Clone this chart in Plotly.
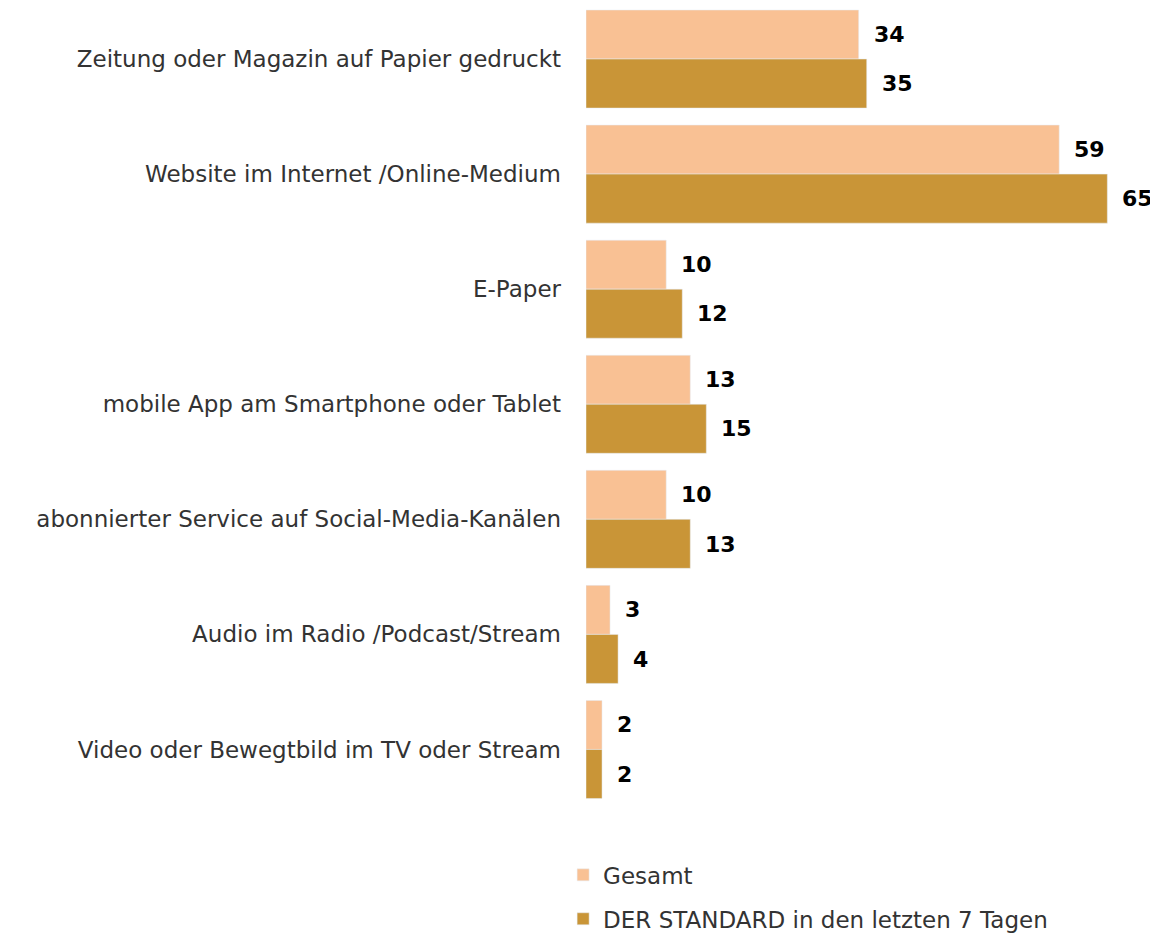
import plotly.graph_objects as go

categories = [
    "Zeitung oder Magazin auf Papier gedruckt",
    "Website im Internet /Online-Medium",
    "E-Paper",
    "mobile App am Smartphone oder Tablet",
    "abonnierter Service auf Social-Media-Kanälen",
    "Audio im Radio /Podcast/Stream",
    "Video oder Bewegtbild im TV oder Stream",
]
gesamt = [34, 59, 10, 13, 10, 3, 2]
standard = [35, 65, 12, 15, 13, 4, 2]

series_names = ["Gesamt", "DER STANDARD in den letzten 7 Tagen"]
colors = ["#F9C194", "#C99537"]

fig = go.Figure()
for name, vals, col in zip(series_names, [gesamt, standard], colors):
    fig.add_trace(go.Bar(
        y=categories,
        x=vals,
        name=name,
        orientation="h",
        marker=dict(color=col),
        legendgroup=name,
    ))

# value labels to the right of the bars
annotations = []
for i, vals in enumerate([gesamt, standard]):
    for j, v in enumerate(vals):
        annotations.append(dict(
            x=v, y=j + (-0.215 if i == 0 else 0.215),
            text="<b>%d</b>" % v,
            xanchor="left", yanchor="middle",
            xshift=13, showarrow=False,
            font=dict(family="DejaVu Sans", size=22, color="#000000"),
        ))

# legend placed relative to the container so it doesn't push the margins
fig.update_layout(
    width=1150, height=927,
    margin=dict(l=578, r=40, t=0, b=128),
    plot_bgcolor="white", paper_bgcolor="white",
    font=dict(family="DejaVu Sans", size=23, color="#333333"),
    barmode="group",
    bargap=0.148,
    bargroupgap=0,
    xaxis=dict(range=[0, 66.33], visible=False),
    yaxis=dict(range=[6.5, -0.4435], showgrid=False, ticks="",
               showline=False, ticklabelstandoff=24,
               tickfont=dict(size=23, color="#333333")),
    legend=dict(orientation="v", x=-0.043, y=0.088, yref="container",
                xanchor="left", yanchor="top",
                tracegroupgap=11, font=dict(size=23, color="#333333"),
                itemwidth=30),
    annotations=annotations,
    showlegend=True,
)

fig.write_html("out.html")
